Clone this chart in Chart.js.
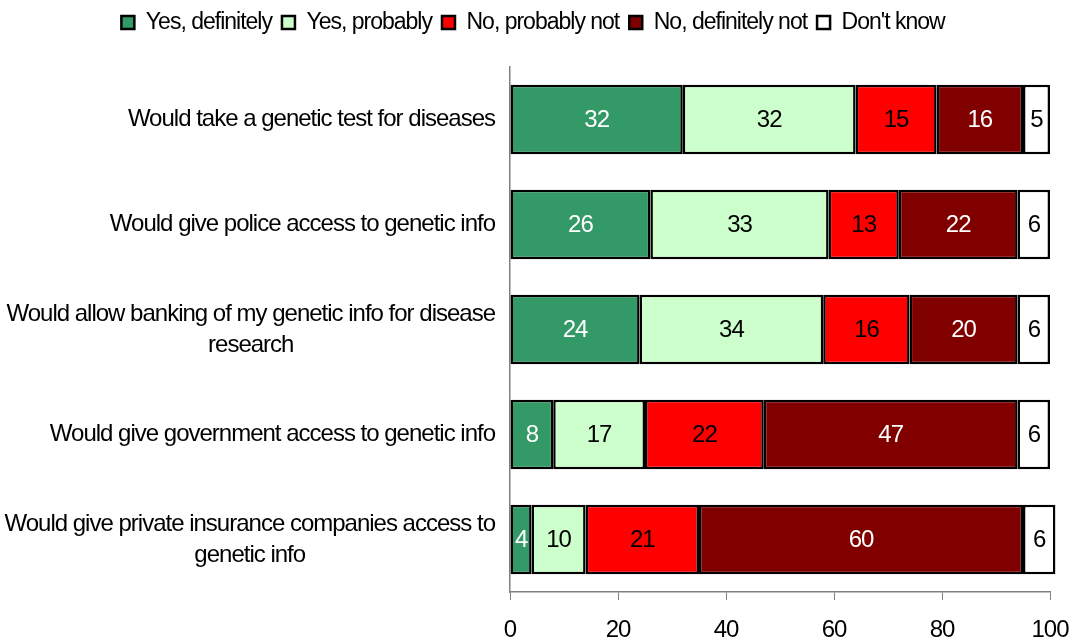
<!DOCTYPE html>
<html>
<head>
<meta charset="utf-8">
<script src="https://cdn.jsdelivr.net/npm/chart.js@4/dist/chart.umd.min.js"></script>
<style>
  html, body { margin: 0; padding: 0; background: #fff; }
  #wrap { width: 1074px; height: 642px; }
</style>
</head>
<body>
<div id="wrap"><canvas id="chart"></canvas></div>
<script>
// questions, top to bottom
var categories = [
    ['Would take a genetic test for diseases'],
    ['Would give police access to genetic info'],
    ['Would allow banking of my genetic info for disease', 'research'],
    ['Would give government access to genetic info'],
    ['Would give private insurance companies access to', 'genetic info']
];

var yesDefinitely = [32, 26, 24, 8, 4];
var yesProbably = [32, 33, 34, 17, 10];
var noProbablyNot = [15, 13, 16, 22, 21];
var noDefinitelyNot = [16, 22, 20, 47, 60];
var dontKnow = [5, 6, 6, 6, 6];

var seriesNames = ['Yes, definitely', 'Yes, probably', 'No, probably not', 'No, definitely not', "Don't know"];
var seriesColors = ['#339966', '#ccffcc', '#ff0000', '#800000', '#ffffff'];
var labelColors = ['#ffffff', '#000000', '#000000', '#ffffff', '#000000'];
var xTicks = [0, 20, 40, 60, 80, 100];

var FONT = "'Liberation Sans', Arial, sans-serif";
var SPACING = '-1px';

// squeeze the text a little, the original font is narrow
var tightText = {
    id: 'tightText',
    beforeInit: function (chart) {
        chart.ctx.letterSpacing = SPACING;
        // more room under the legend
        var fit = chart.legend.fit;
        chart.legend.fit = function () {
            fit.call(this);
            this.height += 23;
        };
    },
    beforeLayout: function (chart) { chart.ctx.letterSpacing = SPACING; },
    beforeDraw: function (chart) { chart.ctx.letterSpacing = SPACING; }
};

// category labels, lines centred, block right aligned
var catLabels = {
    id: 'catLabels',
    afterDraw: function (chart) {
        var ctx = chart.ctx;
        var yScale = chart.scales.y;
        var right = chart.chartArea.left - 15;
        ctx.save();
        ctx.letterSpacing = SPACING;
        ctx.font = '24px ' + FONT;
        ctx.fillStyle = '#000';
        ctx.textBaseline = 'middle';
        ctx.textAlign = 'center';
        var lh = 31;
        categories.forEach(function (lines, i) {
            var cy = yScale.getPixelForValue(i);
            var w = 0;
            lines.forEach(function (l) { w = Math.max(w, ctx.measureText(l).width); });
            var cx = right - w / 2;
            lines.forEach(function (l, j) {
                ctx.fillText(l, cx, cy + (j - (lines.length - 1) / 2) * lh);
            });
        });
        ctx.restore();
    }
};

// value labels inside the bars
var barValues = {
    id: 'barValues',
    afterDatasetsDraw: function (chart) {
        var ctx = chart.ctx;
        ctx.save();
        ctx.letterSpacing = SPACING;
        ctx.font = '24px ' + FONT;
        ctx.textAlign = 'center';
        ctx.textBaseline = 'middle';
        chart.data.datasets.forEach(function (ds, di) {
            var meta = chart.getDatasetMeta(di);
            meta.data.forEach(function (bar, i) {
                var p = bar.getProps(['x', 'y', 'base'], true);
                ctx.fillStyle = labelColors[di];
                ctx.fillText(String(ds.data[i]), (p.x + p.base) / 2, p.y + 1);
            });
        });
        ctx.restore();
    }
};

var seriesData = [yesDefinitely, yesProbably, noProbablyNot, noDefinitelyNot, dontKnow];

var datasets = seriesData.map(function (d, i) {
    return {
        label: seriesNames[i],
        data: d,
        backgroundColor: seriesColors[i],
        borderColor: '#000',
        borderWidth: 2.5,
        borderSkipped: false,
        categoryPercentage: 1,
        barPercentage: 0.66,
        clip: false
    };
});

new Chart(document.getElementById('chart'), {
    type: 'bar',
    data: {
        labels: categories.map(function (c) { return c.join(' '); }),
        datasets: datasets
    },
    options: {
        indexAxis: 'y',
        responsive: true,
        maintainAspectRatio: false,
        animation: false,
        layout: {
            padding: { left: 16, right: 24, top: 1, bottom: 0 }
        },
        scales: {
            x: {
                stacked: true,
                min: 0,
                max: 100,
                afterBuildTicks: function (scale) {
                    scale.ticks = xTicks.map(function (v) { return { value: v }; });
                },
                afterFit: function (scale) {
                    scale.height = 50;
                    scale.paddingRight = 0;
                    scale.paddingLeft = 0;
                },
                grid: {
                    display: true,
                    drawOnChartArea: false,
                    drawTicks: true,
                    tickLength: 8,
                    color: '#808080'
                },
                border: { display: true, color: '#808080', width: 1.5 },
                ticks: {
                    color: '#000',
                    font: { family: FONT, size: 24 },
                    padding: 16,
                    maxRotation: 0
                }
            },
            y: {
                stacked: true,
                afterFit: function (scale) { scale.width = 494; },
                grid: { display: false },
                border: { display: true, color: '#808080', width: 1.5 },
                ticks: { display: false }
            }
        },
        plugins: {
            legend: {
                position: 'top',
                labels: {
                    color: '#000',
                    font: { family: FONT, size: 23 },
                    boxWidth: 13,
                    boxHeight: 13,
                    padding: 10
                }
            },
            tooltip: { enabled: false }
        }
    },
    plugins: [tightText, catLabels, barValues]
});
</script>
</body>
</html>
